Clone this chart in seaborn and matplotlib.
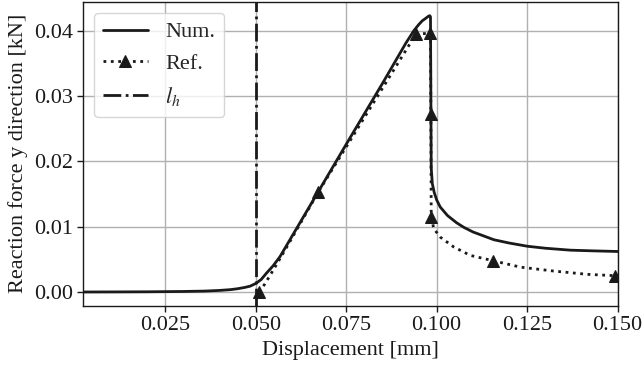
import seaborn as sns
import matplotlib.pyplot as plt

# numerical solution
num_disp = [0.0023, 0.010, 0.020, 0.030, 0.036, 0.040, 0.043, 0.045, 0.047, 0.0485,
            0.050, 0.0515, 0.053, 0.0548, 0.0567, 0.065, 0.075, 0.085, 0.0915, 0.0937,
            0.0950, 0.0960, 0.0970, 0.0977, 0.0981, 0.0983, 0.0984, 0.0985, 0.0988, 0.0993,
            0.1000, 0.1010, 0.1030, 0.1055, 0.1075, 0.1100, 0.1158, 0.1200, 0.1251, 0.1300,
            0.1370, 0.1430, 0.1500]
num_force = [0.0, 0.00001, 0.00003, 0.00008, 0.00014, 0.00024, 0.00036, 0.0005, 0.0007, 0.0009,
             0.0013, 0.0019, 0.0029, 0.0040, 0.0054, 0.0132, 0.0226, 0.0319, 0.0381, 0.0400,
             0.0409, 0.0415, 0.0419, 0.0422, 0.0423, 0.0421, 0.0300, 0.0190, 0.0166, 0.0153,
             0.0141, 0.0130, 0.0117, 0.0106, 0.0099, 0.0092, 0.0080, 0.0075, 0.0070, 0.0067,
             0.0064, 0.0063, 0.0062]

# reference solution
ref_disp = [0.0509, 0.0525, 0.0550, 0.0585, 0.0673, 0.0943, 0.0983, 0.0984, 0.0985, 0.0992,
            0.1010, 0.1047, 0.1093, 0.1155, 0.1232, 0.1324, 0.1417, 0.1492]
ref_force = [0.0000, 0.0012, 0.0035, 0.0068, 0.0153, 0.0395, 0.0396, 0.0272, 0.0115, 0.0097,
             0.0084, 0.0069, 0.0056, 0.0048, 0.0038, 0.0032, 0.0027, 0.0025]
ref_marked = [0, 4, 5, 6, 7, 8, 13, 17]

l_h = 0.05

sns.set_theme(style="ticks", context="notebook")
plt.rcParams['font.family'] = ['Liberation Serif']
plt.rcParams['mathtext.fontset'] = 'stix'
plt.rcParams['font.size'] = 16

fig, ax = plt.subplots(figsize=(6.44, 3.68), dpi=100)
fig.subplots_adjust(left=0.129, right=0.959, bottom=0.169, top=0.995)

sns.lineplot(x=num_disp, y=num_force, estimator=None, sort=False, color='k', lw=2,
             label='Num.', ax=ax)
sns.lineplot(x=ref_disp, y=ref_force, estimator=None, sort=False, color='k', lw=2,
             linestyle=':', marker='^', markevery=ref_marked, markersize=9,
             markeredgecolor='k', markerfacecolor='k', label='Ref.', ax=ax)
ax.axvline(l_h, color='k', lw=2, linestyle='-.', label='$l_h$')

ax.set_xlim(0.0023, 0.15)
ax.set_xticks([0.025, 0.05, 0.075, 0.1, 0.125, 0.15])
ax.set_yticks([0.0, 0.01, 0.02, 0.03, 0.04])
ax.grid(True, color='#b0b0b0', lw=1)
for s in ax.spines.values():
    s.set_color('k')
    s.set_linewidth(1.0)
ax.tick_params(colors='k', labelsize=16, length=4, width=1)
ax.set_xlabel("Displacement [mm]", fontsize=16, color='k')
ax.set_ylabel("Reaction force y direction [kN]", fontsize=16, color='k')
ax.legend(loc='upper left', fontsize=16, frameon=True, framealpha=0.8, edgecolor='0.8',
          fancybox=True)

plt.savefig("out.png", dpi=100)
